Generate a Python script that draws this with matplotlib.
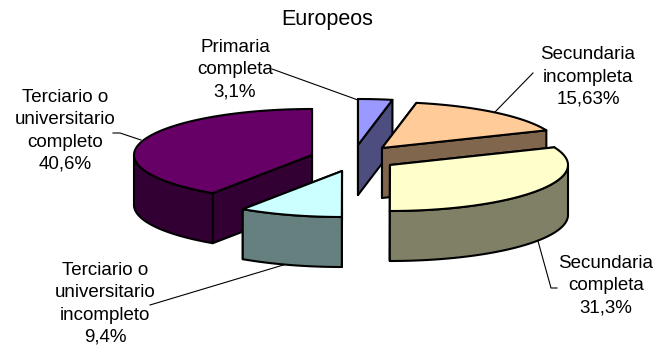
import numpy as np
import matplotlib
matplotlib.use("Agg")
import matplotlib.pyplot as plt
from matplotlib.patches import Polygon

plt.rcParams["font.family"] = "Liberation Sans"

labels = ["Primaria\ncompleta\n3,1%", "Secundaria\nincompleta\n15,63%", "Secundaria\ncompleta\n31,3%",
          "Terciario o\nuniversitario\nincompleto\n9,4%", "Terciario o\nuniversitario\ncompleto\n40,6%"]
values = [3.1, 15.63, 31.3, 9.4, 40.6]
top_colors = ["#9999FF", "#FFCC99", "#FFFFCC", "#CCFFFF", "#660066"]
side_colors = ["#4D4D80", "#80664D", "#808066", "#668080", "#330033"]

# where each exploded slice has its tip, in pixels
apex_x = [358, 382, 390, 342, 312]
apex_y = [145, 148, 165, 171, 155]
label_x = [235, 588, 606, 105, 65]
label_y = [70, 77, 286, 304, 131]
draw_order = [0, 1, 4, 2, 3]

rx, ry, depth = 178, 46, 50

leaders = [
    ([272, 358], [69, 100]),
    ([533, 495], [73, 112]),
    ([538, 551, 557], [241, 288, 288]),
    ([150, 290], [305, 263]),
    ([113, 120, 141], [133, 133, 140]),
]

fracs = np.array(values) / sum(values)
ends = np.cumsum(fracs) * 2 * np.pi
starts = ends - fracs * 2 * np.pi

fig = plt.figure(figsize=(6.53, 3.52), dpi=100)
ax = fig.add_axes([0, 0, 1, 1])
ax.set_xlim(0, 653)
ax.set_ylim(352, 0)
ax.axis("off")


def arc(cx, cy, a, b):
    t = np.linspace(a, b, 80)
    return np.column_stack([cx + rx * np.sin(t), cy - ry * np.cos(t)])


def poly(points, color, z):
    ax.add_patch(Polygon(points, closed=True, facecolor=color, edgecolor="black",
                         linewidth=1.5, joinstyle="round", zorder=z))


for order, i in enumerate(draw_order):
    cx, cy = apex_x[i], apex_y[i]
    a, b = starts[i], ends[i]
    z = 2 + order
    # cut faces first, then the outer wall, then the top
    for ang in (a, b):
        edge = arc(cx, cy, ang, ang)[0]
        poly([(cx, cy), edge, edge + [0, depth], (cx, cy + depth)], side_colors[i], z)
    lo, hi = max(a, np.pi / 2), min(b, 3 * np.pi / 2)
    if hi > lo:
        wall = arc(cx, cy, lo, hi)
        poly(np.vstack([wall, (wall + [0, depth])[::-1]]), side_colors[i], z)
    poly(np.vstack([[(cx, cy)], arc(cx, cy, a, b)]), top_colors[i], z)

for xs, ys in leaders:
    ax.plot(xs, ys, color="black", lw=0.8, zorder=1)

for i in range(len(labels)):
    ax.text(label_x[i], label_y[i], labels[i], ha="center", va="center", fontsize=13.5,
            linespacing=1.4, color="black", zorder=10)

ax.text(327, 20, "Europeos", ha="center", va="center", fontsize=15.5, color="black")

fig.savefig("out.png", dpi=100)
